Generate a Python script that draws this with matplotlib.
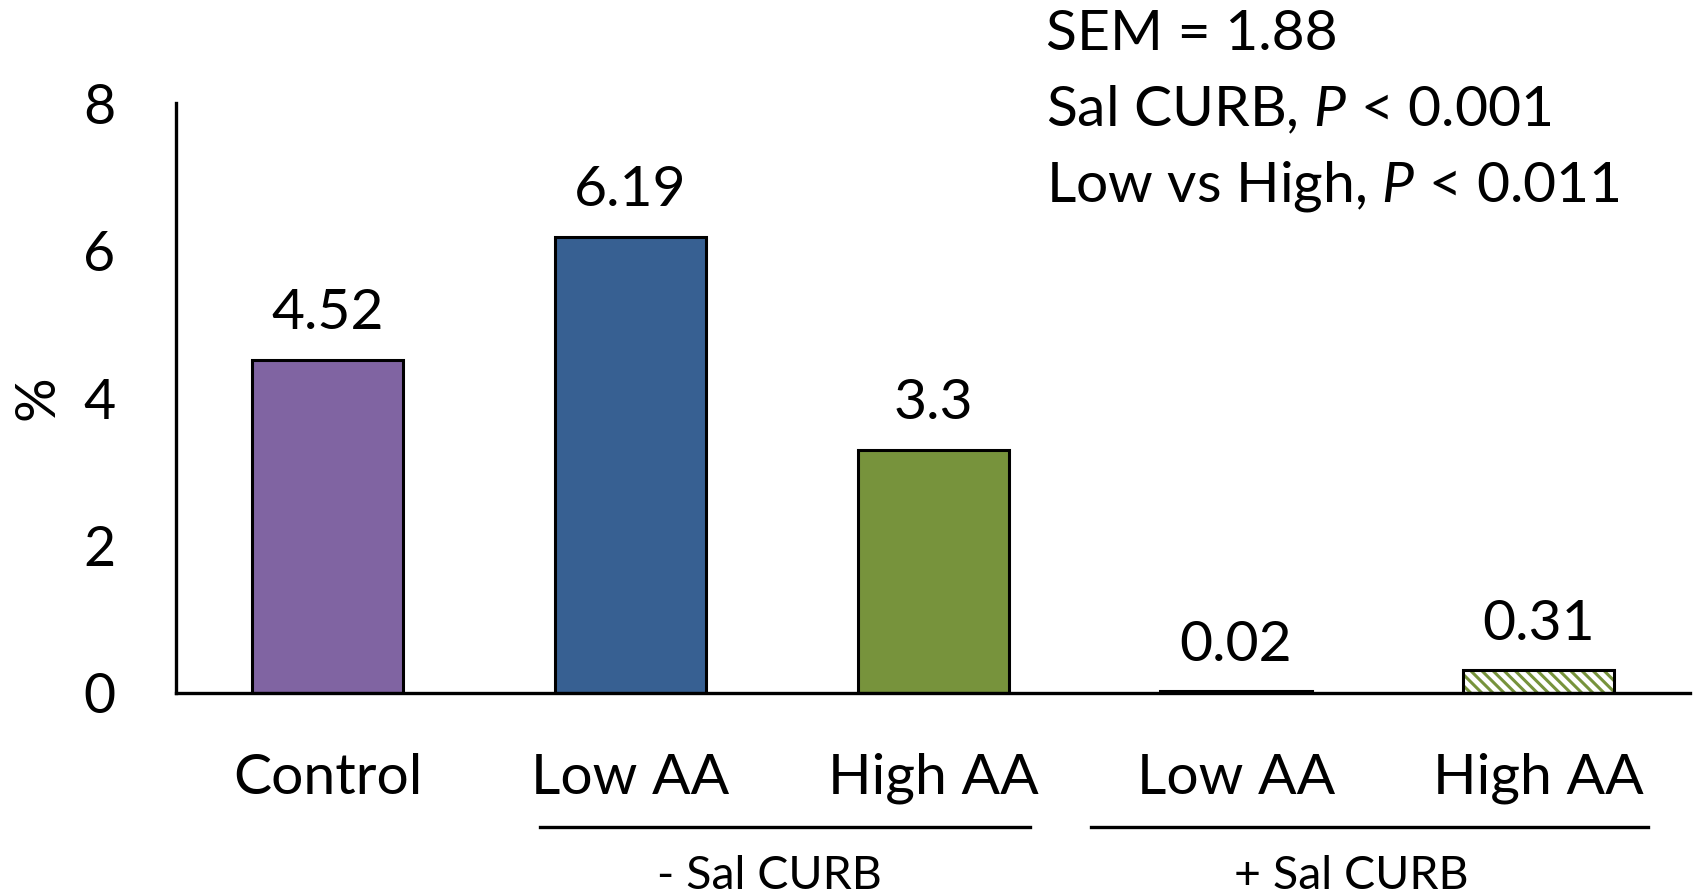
import matplotlib
matplotlib.use('Agg')
import matplotlib.pyplot as plt
import matplotlib.transforms as mtransforms

plt.rcParams['font.family'] = ['Lato', 'DejaVu Sans']
plt.rcParams['mathtext.fontset'] = 'custom'
plt.rcParams['mathtext.it'] = 'Lato:italic'
plt.rcParams['mathtext.rm'] = 'Lato'
plt.rcParams['hatch.linewidth'] = 2.2

# data
categories = ['Control', 'Low AA', 'High AA', 'Low AA', 'High AA']
values = [4.52, 6.19, 3.3, 0.02, 0.31]
value_labels = ['4.52', '6.19', '3.3', '0.02', '0.31']
bar_colors = ['#8064A2', '#376092', '#77933C', '#376092', '#77933C']
hatched = [False, False, False, False, True]
groups = ['- Sal CURB', '+ Sal CURB']
group_spans = [(0.70, 2.32), (2.52, 4.36)]
group_centers = [1.46, 3.38]
stats_lines = ['SEM = 1.88', 'Sal CURB, $\\mathit{P}$ < 0.001', 'Low vs High, $\\mathit{P}$ < 0.011']

fig = plt.figure(figsize=(16.96, 8.96), dpi=100)
ax = fig.add_axes([0.104, 0.2266, 0.8925, 0.6584])

x = list(range(len(categories)))
for i, (v, c, h) in enumerate(zip(values, bar_colors, hatched)):
    if h:
        ax.bar(i, v, width=0.5, color='white', edgecolor=c, hatch='\\\\\\', linewidth=0)
        ax.bar(i, v, width=0.5, fill=False, edgecolor='black', linewidth=2.2)
    else:
        ax.bar(i, v, width=0.5, color=c, edgecolor='black', linewidth=2.2)
    ax.annotate(value_labels[i], (i, v), xytext=(0, 33), textcoords='offset points',
                ha='center', va='center', fontsize=41)

ax.set_xlim(-0.5, 4.5)
ax.set_ylim(0, 8)
ax.set_yticks([0, 2, 4, 6, 8])
ax.set_xticks(x)
ax.set_xticklabels(categories, fontsize=41)
ax.tick_params(axis='both', length=0)
ax.tick_params(axis='y', pad=44, labelsize=40)
ax.tick_params(axis='x', pad=43)
ax.set_ylabel('%', fontsize=40, labelpad=14)
for s in ['top', 'right']:
    ax.spines[s].set_visible(False)
for s in ['left', 'bottom']:
    ax.spines[s].set_linewidth(2.4)

# group lines and labels below the axis
trans = mtransforms.blended_transform_factory(ax.transData, ax.transAxes)
for (x0, x1), xc, g in zip(group_spans, group_centers, groups):
    ax.plot([x0, x1], [-0.227, -0.227], color='black', lw=2.4, transform=trans, clip_on=False)
    ax.text(xc, -0.31, g, transform=trans, ha='center', va='center', fontsize=33.5)

for k, line in enumerate(stats_lines):
    fig.text(0.617, 0.961 - k * 0.0845, line, ha='left', va='center', fontsize=41)

fig.savefig('out.png', dpi=100)
